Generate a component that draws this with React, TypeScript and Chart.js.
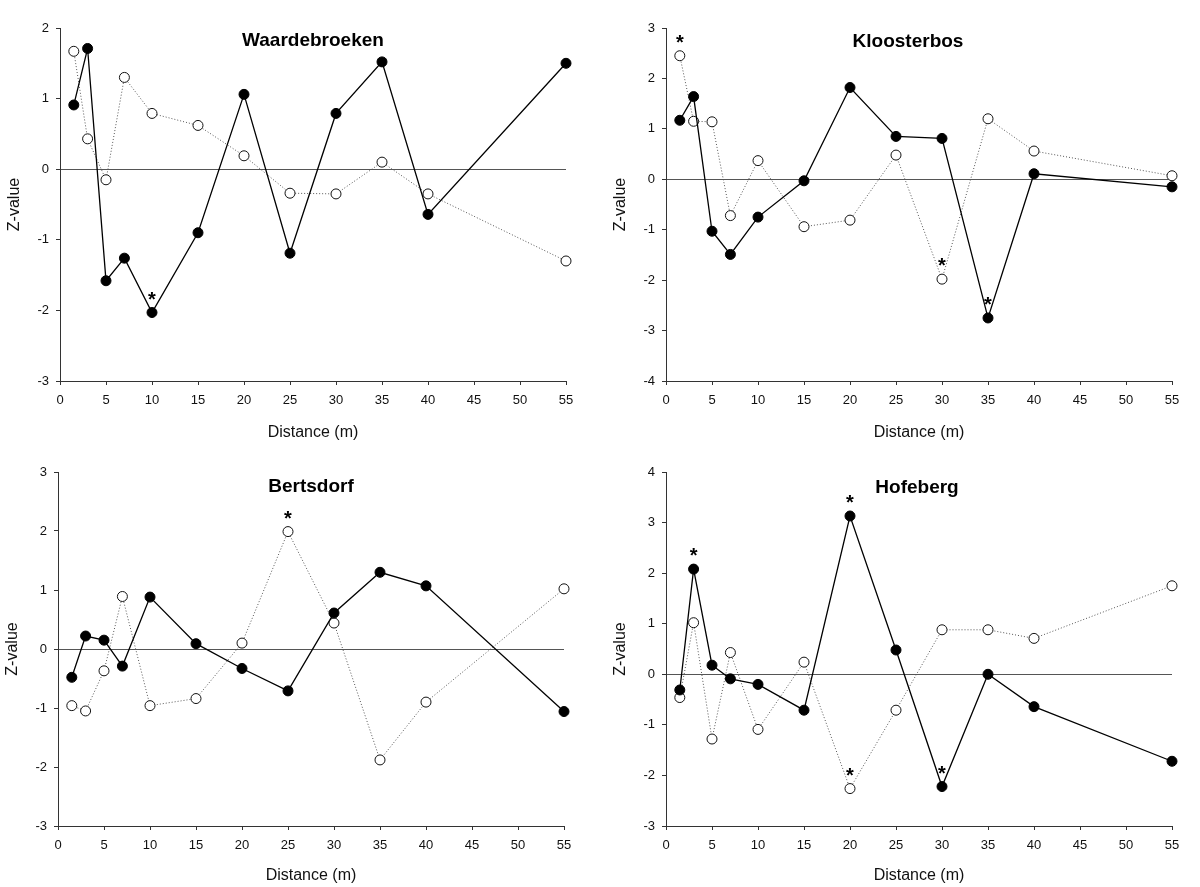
import React, { useEffect, useRef } from 'react';
import { Chart, registerables } from 'chart.js';

Chart.register(...registerables);

// ---------- DATA ----------
const distances = [1.5, 3, 5, 7, 10, 15, 20, 25, 30, 35, 40, 55];

const waardebroekenFilled = [0.91, 1.71, -1.58, -1.26, -2.03, -0.9, 1.06, -1.19, 0.79, 1.52, -0.64, 1.5];
const waardebroekenOpen = [1.67, 0.43, -0.15, 1.3, 0.79, 0.62, 0.19, -0.34, -0.35, 0.1, -0.35, -1.3];
const waardebroekenFilledStars = [10];
const waardebroekenOpenStars: number[] = [];

const kloosterbosFilled = [1.17, 1.64, -1.03, -1.49, -0.75, -0.03, 1.82, 0.85, 0.81, -2.75, 0.11, -0.15];
const kloosterbosOpen = [2.45, 1.15, 1.14, -0.72, 0.37, -0.94, -0.81, 0.48, -1.98, 1.2, 0.56, 0.07];
const kloosterbosFilledStars = [35];
const kloosterbosOpenStars = [1.5, 30];

const bertsdorfFilled = [-0.48, 0.22, 0.15, -0.29, 0.88, 0.09, -0.33, -0.71, 0.61, 1.3, 1.07, -1.06];
const bertsdorfOpen = [-0.96, -1.05, -0.37, 0.89, -0.96, -0.84, 0.1, 1.99, 0.44, -1.88, -0.9, 1.02];
const bertsdorfFilledStars: number[] = [];
const bertsdorfOpenStars = [25];

const hofebergFilled = [-0.31, 2.08, 0.18, -0.09, -0.2, -0.71, 3.13, 0.48, -2.22, 0.0, -0.64, -1.72];
const hofebergOpen = [-0.46, 1.02, -1.28, 0.43, -1.09, 0.24, -2.26, -0.71, 0.88, 0.88, 0.71, 1.75];
const hofebergFilledStars = [3, 20, 30];
const hofebergOpenStars = [20];

const xAxisTitle = 'Distance (m)';
const yAxisTitle = 'Z-value';

// ---------- PANELS ----------
type Panel = {
  title: string;
  filled: number[];
  open: number[];
  filledStars: number[];
  openStars: number[];
  yMin: number;
  yMax: number;
  left: number;
  top: number;
  height: number;
  pad: { left: number; right: number; top: number; bottom: number };
  xH: number;
  titleDy: number;
  titleDx: number;
};

const FONT = '"Liberation Sans", Arial, Helvetica, sans-serif';

const panels: Panel[] = [
  {
    title: 'Waardebroeken', filled: waardebroekenFilled, open: waardebroekenOpen,
    filledStars: waardebroekenFilledStars, openStars: waardebroekenOpenStars,
    yMin: -3, yMax: 2, left: 0, top: 0, height: 443,
    pad: { left: 5, right: 34, top: 28, bottom: 1 }, xH: 61, titleDy: 13, titleDx: 0,
  },
  {
    title: 'Kloosterbos', filled: kloosterbosFilled, open: kloosterbosOpen,
    filledStars: kloosterbosFilledStars, openStars: kloosterbosOpenStars,
    yMin: -4, yMax: 3, left: 600, top: 0, height: 443,
    pad: { left: 11, right: 28, top: 28, bottom: 1 }, xH: 61, titleDy: 14, titleDx: -11,
  },
  {
    title: 'Bertsdorf', filled: bertsdorfFilled, open: bertsdorfOpen,
    filledStars: bertsdorfFilledStars, openStars: bertsdorfOpenStars,
    yMin: -3, yMax: 3, left: 0, top: 443, height: 444,
    pad: { left: 3, right: 36, top: 29, bottom: 2 }, xH: 59, titleDy: 15, titleDx: 0,
  },
  {
    title: 'Hofeberg', filled: hofebergFilled, open: hofebergOpen,
    filledStars: hofebergFilledStars, openStars: hofebergOpenStars,
    yMin: -3, yMax: 4, left: 600, top: 443, height: 444,
    pad: { left: 11, right: 28, top: 29, bottom: 2 }, xH: 59, titleDy: 16, titleDx: -2,
  },
];

const toPoints = (vals: number[]) => distances.map((d, i) => ({ x: d, y: vals[i] }));

function makeConfig(p: Panel): any {
  const overlay = {
    id: 'overlay',
    afterDatasetsDraw(chart: any) {
      const ctx = chart.ctx;
      const area = chart.chartArea;
      ctx.save();
      ctx.fillStyle = '#000';
      ctx.font = `bold 19px ${FONT}`;
      ctx.textAlign = 'center';
      ctx.textBaseline = 'middle';
      ctx.fillText(p.title, (area.left + area.right) / 2 + p.titleDx, area.top + p.titleDy);

      ctx.font = `bold 20px ${FONT}`;
      ctx.textBaseline = 'alphabetic';
      const drawStars = (dsIndex: number, stars: number[]) => {
        const meta = chart.getDatasetMeta(dsIndex);
        stars.forEach((sx) => {
          const idx = distances.indexOf(sx);
          const el = meta.data[idx];
          if (el) ctx.fillText('*', el.x, el.y - 7);
        });
      };
      drawStars(0, p.filledStars);
      drawStars(1, p.openStars);
      ctx.restore();
    },
  };

  return {
    type: 'line',
    data: {
      datasets: [
        {
          label: 'filled',
          data: toPoints(p.filled),
          borderColor: '#000',
          borderWidth: 1.3,
          pointRadius: 5,
          pointBackgroundColor: '#000',
          pointBorderColor: '#000',
          pointBorderWidth: 1,
          tension: 0,
          clip: false,
        },
        {
          label: 'open',
          data: toPoints(p.open),
          borderColor: '#555',
          borderWidth: 1,
          borderDash: [1, 2],
          pointRadius: 5,
          pointBackgroundColor: '#fff',
          pointBorderColor: '#111',
          pointBorderWidth: 1,
          tension: 0,
          clip: false,
        },
      ],
    },
    options: {
      responsive: false,
      animation: false,
      devicePixelRatio: 1,
      layout: { padding: p.pad },
      plugins: { legend: { display: false }, tooltip: { enabled: false }, title: { display: false } },
      scales: {
        x: {
          type: 'linear',
          min: 0,
          max: 55,
          ticks: { stepSize: 5, color: '#111', padding: 8, font: { size: 13, family: FONT } },
          grid: { drawOnChartArea: false, drawTicks: true, tickLength: 4, tickColor: '#333' },
          border: { display: true, color: '#333', width: 1 },
          title: { display: true, text: xAxisTitle, color: '#111', padding: 0, font: { size: 16, family: FONT } },
          afterFit: (s: any) => { s.height = p.xH; },
        },
        y: {
          type: 'linear',
          min: p.yMin,
          max: p.yMax,
          ticks: { stepSize: 1, color: '#111', padding: 7, font: { size: 13, family: FONT } },
          grid: {
            drawOnChartArea: true,
            drawTicks: true,
            tickLength: 4,
            tickColor: '#333',
            lineWidth: 1,
            color: (c: any) => (c.tick && c.tick.value === 0 ? '#555' : 'rgba(0,0,0,0)'),
          },
          border: { display: true, color: '#333', width: 1 },
          title: { display: true, text: yAxisTitle, color: '#111', padding: 0, font: { size: 16, family: FONT } },
          afterFit: (s: any) => { s.width = 55; },
        },
      },
    },
    plugins: [overlay],
  };
}

function PanelChart({ p }: { p: Panel }) {
  const ref = useRef<HTMLCanvasElement | null>(null);
  useEffect(() => {
    if (!ref.current) return;
    const chart = new Chart(ref.current, makeConfig(p));
    return () => chart.destroy();
  }, [p]);
  return (
    <canvas
      ref={ref}
      width={600}
      height={p.height}
      style={{ position: 'absolute', left: p.left, top: p.top, width: 600, height: p.height, display: 'block' }}
    />
  );
}

export default function App() {
  return (
    <div style={{ position: 'absolute', left: 0, top: 0, width: 1200, height: 887, background: '#fff', overflow: 'hidden' }}>
      {panels.map((p) => (
        <PanelChart key={p.title} p={p} />
      ))}
    </div>
  );
}
